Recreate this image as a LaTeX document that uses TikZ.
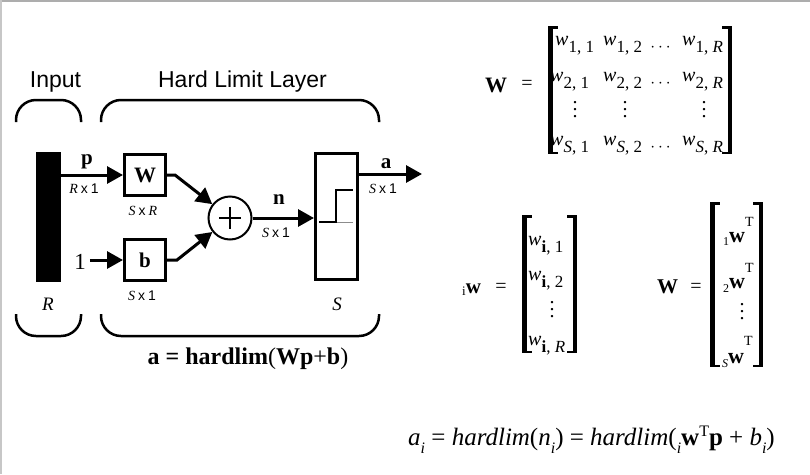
\documentclass[tikz,border=0pt]{standalone}
\usepackage{fontspec}
\setmainfont{Liberation Serif}
\setsansfont{Liberation Sans}
\usetikzlibrary{arrows.meta}
\newcommand{\fs}[1]{\fontsize{#1}{#1}\selectfont}
\newcommand{\mw}[1]{\textit{w}\raisebox{-7pt}{\fs{17}#1}}
\newcommand{\dn}[1]{\raisebox{-8pt}{\fs{16}\textit{#1}}}
\newcommand{\upT}{\raisebox{9pt}{\fs{16}T}}
\newcommand{\vd}{\vbox{\baselineskip=7pt\lineskiplimit=0pt\hbox{.}\hbox{.}\hbox{.}}}
\newcommand{\dimlab}[2]{#1\hspace{3pt}\textsf{x}\hspace{3pt}#2}
\newcommand{\lbrk}[3]{\fill (#1,#2) rectangle (#1+4.5,#3); \fill (#1,#2) rectangle (#1+10,#2+2.5); \fill (#1,#3) rectangle (#1+10,#3-2.5);}
\newcommand{\rbrk}[3]{\fill (#1,#2) rectangle (#1-4.5,#3); \fill (#1,#2) rectangle (#1-10,#2+2.5); \fill (#1,#3) rectangle (#1-10,#3-2.5);}
\begin{document}
\begin{tikzpicture}[x=1pt,y=-1pt,
  conn/.style={line width=3pt,-{Triangle[length=16pt,width=17pt]}},
  blk/.style={draw,line width=3pt,minimum size=41pt,inner sep=0pt},
  brace/.style={line width=2.5pt,rounded corners=20pt},
  lab/.style={inner sep=0pt,anchor=base},
  rlab/.style={inner sep=0pt,anchor=base west},
  dim/.style={lab,font=\fs{14}},
  bold/.style={lab,font=\fs{21}\bfseries},
  eqs/.style={inner sep=0pt,font=\fs{20}},
  vdt/.style={inner sep=0pt,font=\fs{20}}]
\useasboundingbox (0,0) rectangle (810,474);
\fill[white] (0,0) rectangle (810,474);
\fill[black!32] (0,0) rectangle (810,2);
\fill[black!22] (0,0) rectangle (1.5,474);
% braces
\draw[brace] (16,122) -- (16,100) -- (81,100) -- (81,122);
\draw[brace] (101,122) -- (101,100) -- (379,100) -- (379,122);
\draw[brace] (16,314) -- (16,336) -- (81,336) -- (81,314);
\draw[brace] (101,314) -- (101,336) -- (379,336) -- (379,314);
\node[lab,font=\fs{23}\sffamily] (tin) at (55.5,87) {Input};
\node[lab,font=\fs{23}\sffamily] (tlay) at (242.5,87) {Hard Limit Layer};
% blocks
\node[fill=black,minimum width=25pt,minimum height=130pt,inner sep=0pt] (bar) at (48.5,217) {};
\node[blk] (W) at (145,175) {\fs{22}\bfseries W};
\node[blk] (b) at (145,260) {\fs{21}\bfseries b};
\node[circle,draw,line width=2pt,minimum size=43pt,inner sep=0pt] (sum) at (230,218) {};
\node[draw,line width=3pt,minimum width=42pt,minimum height=126pt,inner sep=0pt] (S) at (336.5,216.5) {};
\node[lab,font=\fs{23}] (one) at (80,269) {1};
\coordinate (out) at (422,174);
% plus and step
\draw[line width=2pt] (sum.center) ++(-11,0) -- ++(22,0) (sum.center) ++(0,-11) -- ++(0,22);
\draw[black!45,line width=1pt] (319,222) -- (353,222);
\draw[line width=2pt] (319,222) -- (336,222) -- (336,190) -- (353,190);
% connectors
\draw[conn] (bar.east |- W.west) -- (W.west);
\draw[conn,shorten <=4pt] (one.east |- b.west) -- (b.west);
\draw[conn] (W.east) -- ++(8,0) -- (sum);
\draw[conn] (b.east) -- ++(10,0) -- (sum);
\draw[conn] (sum) -- (S.west |- sum);
\draw[conn] (S.east |- out) -- (out);
% labels
\node[bold] (lp) at (87,164) {p};
\node[dim] (lrx) at (84,193) {\dimlab{\textit{R}}{\textsf{1}}};
\node[dim] (lsr) at (143,215) {\dimlab{\textit{S}}{\textit{R}}};
\node[dim] (ls1b) at (142,300) {\dimlab{\textit{S}}{\textsf{1}}};
\node[bold] (ln) at (279,204) {n};
\node[dim] (ls1n) at (276,237) {\dimlab{\textit{S}}{\textsf{1}}};
\node[bold] (la) at (386,168) {a};
\node[dim] (ls1a) at (383,193) {\dimlab{\textit{S}}{\textsf{1}}};
\node[lab,font=\fs{19}\itshape] (lR) at (48,310) {R};
\node[lab,font=\fs{19}\itshape] (lS) at (337,310) {S};
\node[lab,font=\fs{24}] (form) at (248,364) {\textbf{a = hardlim}(\textbf{Wp}+\textbf{b})};
% top matrix W
\node[lab,font=\fs{22}\bfseries] (W1) at (496,92) {W};
\node[eqs] (e1) at (527,85) {=};
\lbrk{548}{26}{154}
\rbrk{732}{26}{154}
\node[rlab,font=\fs{20}] (m11) at (555,45) {\mw{1, 1}};
\node[rlab,font=\fs{20}] (m12) at (603,45) {\mw{1, 2}};
\node[lab,font=\fs{18}] (m1c) at (660.5,51) {$\cdots$};
\node[rlab,font=\fs{20}] (m1r) at (682,45) {\mw{1, \textit{R}}};
\node[rlab,font=\fs{20}] (m21) at (550,81) {\mw{2, 1}};
\node[rlab,font=\fs{20}] (m22) at (603,81) {\mw{2, 2}};
\node[lab,font=\fs{18}] (m2c) at (660.5,87) {$\cdots$};
\node[rlab,font=\fs{20}] (m2r) at (682,81) {\mw{2, \textit{R}}};
\node[vdt] (v1) at (575,110) {\vd};
\node[vdt] (v2) at (625,110) {\vd};
\node[vdt] (v3) at (704,110) {\vd};
\node[rlab,font=\fs{20}] (ms1) at (550,145) {\mw{\textit{S}, 1}};
\node[rlab,font=\fs{20}] (ms2) at (603,145) {\mw{\textit{S}, 2}};
\node[lab,font=\fs{18}] (msc) at (660.5,151) {$\cdots$};
\node[rlab,font=\fs{20}] (msr) at (682,145) {\mw{\textit{S}, \textit{R}}};
% column vector iw
\node[rlab] (iw) at (462,293) {\raisebox{-2pt}{\fs{13}i}\fs{21}\bfseries w};
\node[eqs] (e2) at (501,288) {=};
\lbrk{522}{215}{353}
\rbrk{577}{215}{353}
\node[rlab,font=\fs{20}] (c1) at (528,245) {\mw{\textbf{i}, 1}};
\node[rlab,font=\fs{20}] (c2) at (528,280) {\mw{\textbf{i}, 2}};
\node[vdt] (cv) at (552,310) {\vd};
\node[rlab,font=\fs{20}] (cr) at (528,345) {\mw{\textbf{i}, \textit{R}}};
% W as rows
\node[lab,font=\fs{21}\bfseries] (W2) at (667.5,293) {W};
\node[eqs] (e3) at (696,288) {=};
\lbrk{710}{202}{367}
\rbrk{763}{202}{367}
\node[rlab] (r1) at (723,242) {\raisebox{-3pt}{\fs{12}1}\fs{22}\bfseries w\raisebox{16pt}{\fs{14}\mdseries T}};
\node[rlab] (r2) at (723,288) {\raisebox{-4pt}{\fs{12}2}\fs{22}\bfseries w\raisebox{16pt}{\fs{14}\mdseries T}};
\node[vdt] (rv) at (742,312) {\vd};
\node[rlab] (rs) at (722,363) {\raisebox{-4pt}{\fs{12}\itshape S}\fs{22}\bfseries w\raisebox{18pt}{\fs{14}\mdseries T}};
% bottom equation
\node[rlab,font=\fs{25}] (eq) at (408,445) {\textit{a}\dn{i} = \textit{hardlim}(\textit{n}\dn{i}) = \textit{hardlim}(\dn{i}\textbf{w}\upT\textbf{p} + \textit{b}\dn{i})};
\end{tikzpicture}
\end{document}
